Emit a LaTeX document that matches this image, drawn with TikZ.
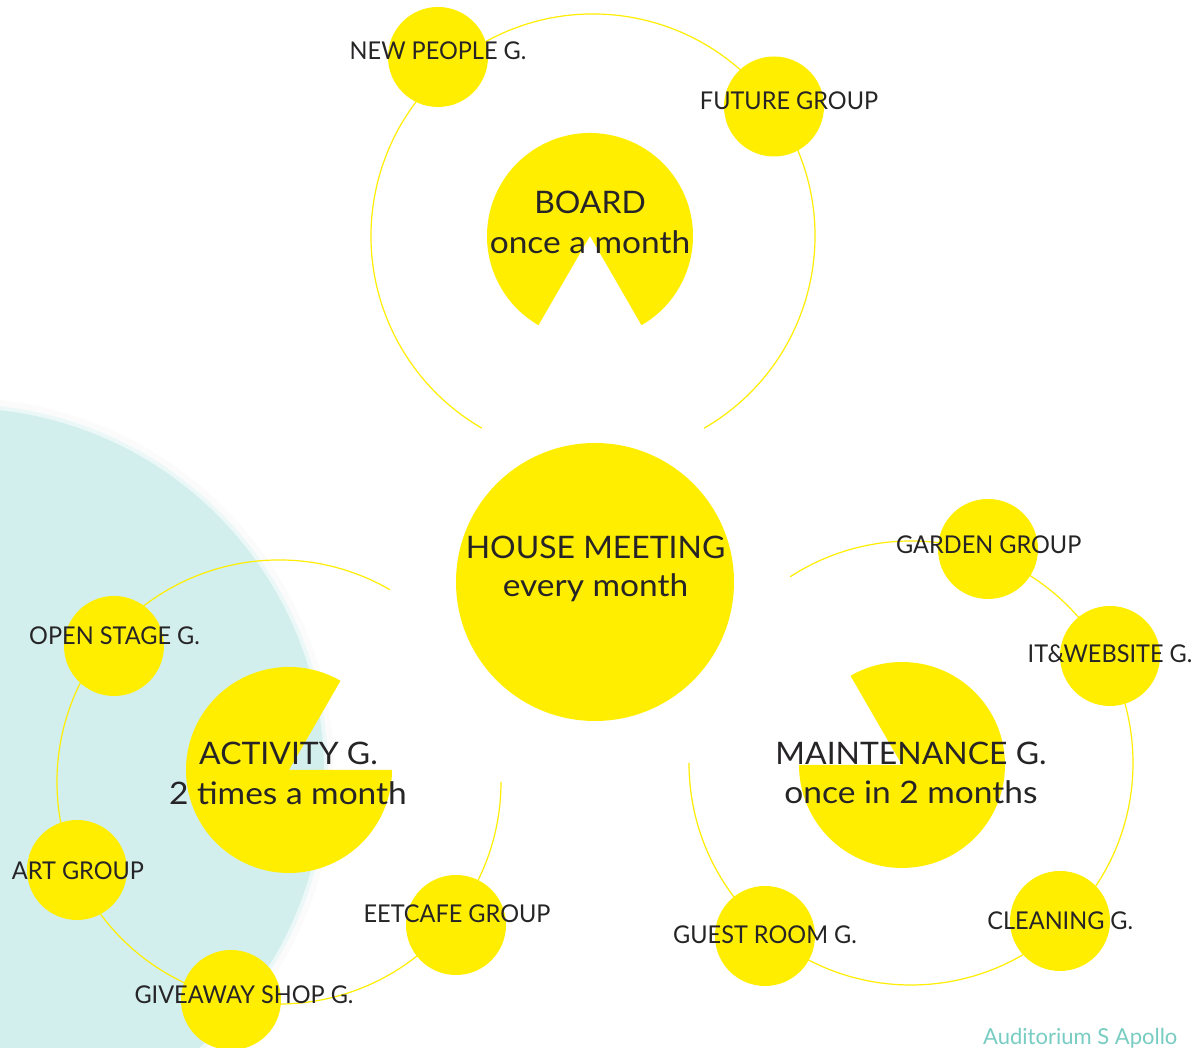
\documentclass[tikz,border=0pt]{standalone}
\usepackage{fontspec}
\setmainfont{Lato}
\newfontfamily\smallfont{Lato}[FakeStretch=0.96]
\newfontfamily\capsfont{Lato}[FakeStretch=1.03]
\newfontfamily\lowfont{Lato}[FakeStretch=1.08]
\definecolor{yel}{RGB}{255,238,0}
\definecolor{ink}{RGB}{38,36,38}
\definecolor{bgteal}{RGB}{210,239,237}
\definecolor{tealtxt}{RGB}{120,205,195}
\tikzset{
  orbit/.style={draw=yel, line width=1.2pt},
  pie/.style={fill=yel},
  smallc/.style={circle, fill=yel, minimum size=100pt, inner sep=0pt},
  hub/.style={circle, minimum size=206pt, inner sep=0pt},
  lbl/.style={anchor=base, inner sep=0pt, text=ink, font=\smallfont\fontsize{24.5}{28}\selectfont},
  bigcaps/.style={anchor=base, inner sep=0pt, text=ink, font=\capsfont\fontsize{31}{36}\selectfont},
  biglow/.style={anchor=base, inner sep=0pt, text=ink, font=\lowfont\fontsize{31}{36}\selectfont},
}
\begin{document}
\begin{tikzpicture}[x=1pt,y=1pt]
\useasboundingbox (0,0) rectangle (1195,1048);
\fill[white] (0,0) rectangle (1195,1048);
% teal background disc
\begin{scope}
\clip (0,0) rectangle (1195,1048);
\coordinate (tealc) at (-41,275);
\draw[black!1.5, line width=10pt] (tealc) circle[radius=370];
\draw[bgteal!45, line width=6pt] (tealc) circle[radius=366];
\fill[bgteal] (tealc) circle[radius=365];
\node[anchor=base west, inner sep=0pt, text=tealtxt, font=\fontsize{22}{26}\selectfont] (aud) at (983,3) {Auditorium S Apollo};
\end{scope}
% orbits
\draw[orbit] (593,812) ++(-60:222) arc[start angle=-60, end angle=240, radius=222];
\draw[orbit] (279,266) ++(60:222) arc[start angle=60, end angle=360, radius=222];
\draw[orbit] (911,285) ++(180:222) arc[start angle=180, end angle=483, radius=222];
% hubs
\node[hub] (board) at (590,812) {};
\node[hub] (activity) at (289,278) {};
\node[hub] (maint) at (902,283) {};
\node[circle, fill=yel, minimum size=278pt, inner sep=0pt] (house) at (595,466) {};
\fill[pie] (board.center) -- ++(-60:103) arc[start angle=-60, end angle=240, radius=103] -- cycle;
\fill[pie] (activity.center) -- ++(60:103) arc[start angle=60, end angle=360, radius=103] -- cycle;
\fill[pie] (maint.center) -- ++(180:103) arc[start angle=180, end angle=480, radius=103] -- cycle;
% small circles
\node[smallc] (newpeople) at (438,991) {};
\node[smallc] (future) at (774,941.5) {};
\node[smallc] (garden) at (988,499) {};
\node[smallc] (itweb) at (1110,392) {};
\node[smallc] (cleaning) at (1060,127) {};
\node[smallc] (guest) at (765,112) {};
\node[smallc] (eetcafe) at (456,123) {};
\node[smallc] (giveaway) at (231,48) {};
\node[smallc] (openstage) at (114,402) {};
\node[smallc] (art) at (77,178) {};
% labels
\node[lbl] (newpeopleL) at (438,988) {NEW PEOPLE G.};
\node[lbl] (futureL) at (789,938.5) {FUTURE GROUP};
\node[lbl] (gardenL) at (988.7,494) {GARDEN GROUP};
\node[lbl] (itwebL) at (1110,385.5) {IT\&WEBSITE G.};
\node[lbl] (guestL) at (765,104) {GUEST ROOM G.};
\node[lbl] (cleaningL) at (1060.3,118.5) {CLEANING G.};
\node[lbl] (eetcafeL) at (457,125) {EETCAFE GROUP};
\node[lbl] (giveawayL) at (244,44) {GIVEAWAY SHOP G.};
\node[lbl] (openstageL) at (114.5,403) {OPEN STAGE G.};
\node[lbl] (artL) at (78,168) {ART GROUP};
\node[bigcaps] (boardA) at (590,834.7) {BOARD};
\node[biglow] (boardB) at (590,794.7) {once a month};
\node[bigcaps] (houseA) at (595.5,489) {HOUSE MEETING};
\node[biglow] (houseB) at (595.5,451) {every month};
\node[bigcaps] (activityA) at (288.5,283.7) {ACTIVITY G.};
\node[biglow] (activityB) at (288,243) {2 times a month};
\node[bigcaps] (maintA) at (911,283.7) {MAINTENANCE G.};
\node[biglow] (maintB) at (911,244) {once in 2 months};
\end{tikzpicture}
\end{document}
